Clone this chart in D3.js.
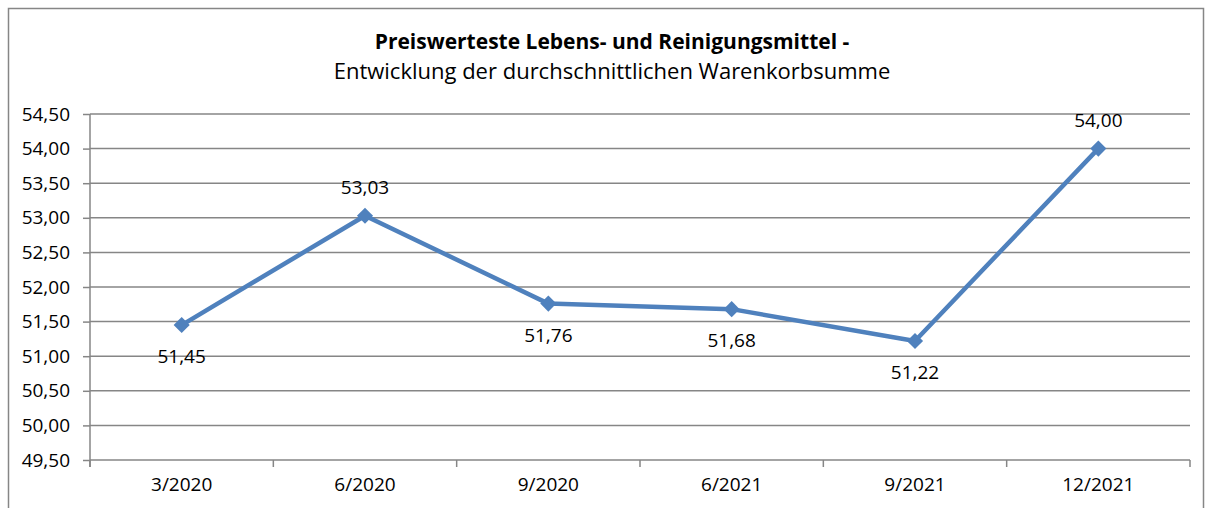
<!DOCTYPE html>
<html lang="de">
<head>
<meta charset="UTF-8">
<title>Warenkorbsumme</title>
<script src="https://d3js.org/d3.v7.min.js"></script>
<style>
    body { margin: 0; background: #fff; }
    text { font-family: "Open Sans", Lato, sans-serif; fill: #000; }
    .grid line { stroke: #868686; stroke-width: 1.5px; }
    .axis path, .axis line { stroke: #868686; stroke-width: 1.5px; }
    .axis text { font-size: 19px; }
</style>
</head>
<body>
<svg width="1209" height="508"></svg>
<script>
    var categories = ["3/2020", "6/2020", "9/2020", "6/2021", "9/2021", "12/2021"];
    var values = [51.45, 53.03, 51.76, 51.68, 51.22, 54.00];
    var labelSide = ["below", "above", "below", "below", "below", "above"];
    var yTicks = [49.5, 50, 50.5, 51, 51.5, 52, 52.5, 53, 53.5, 54, 54.5];

    var svg = d3.select("svg");
    var margin = {left: 90, right: 19, top: 114, bottom: 48};
    var width = 1209 - margin.left - margin.right,
        height = 508 - margin.top - margin.bottom;

    // chart frame
    svg.append("rect")
        .attr("x", 8.5).attr("y", 8.5)
        .attr("width", 1195).attr("height", 510)
        .attr("fill", "none").attr("stroke", "#868686").attr("stroke-width", 1.5);

    svg.append("text").attr("x", 612).attr("y", 49)
        .attr("text-anchor", "middle").style("font-size", "21px").style("font-weight", "bold")
        .text("Preiswerteste Lebens- und Reinigungsmittel -");
    svg.append("text").attr("x", 612).attr("y", 79)
        .attr("text-anchor", "middle").style("font-size", "22px")
        .text("Entwicklung der durchschnittlichen Warenkorbsumme");

    var g = svg.append("g").attr("transform", "translate(" + margin.left + "," + margin.top + ")");

    var x = d3.scaleBand().domain(categories).range([0, width]);
    var y = d3.scaleLinear().domain([49.5, 54.5]).range([height, 0]);
    var fmt = function (v) { return d3.format(".2f")(v).replace(".", ","); };

    g.append("g").attr("class", "grid")
        .selectAll("line").data(yTicks.slice(1)).enter().append("line")
        .attr("x1", 0).attr("x2", width)
        .attr("y1", function (d) { return y(d); })
        .attr("y2", function (d) { return y(d); });

    var yAxis = g.append("g").attr("class", "axis")
        .call(d3.axisLeft(y).tickValues(yTicks).tickSize(7).tickSizeOuter(0).tickPadding(13).tickFormat(fmt));
    yAxis.select(".domain").attr("d", "M0," + (height + 7) + "V0");

    var xAxis = g.append("g").attr("class", "axis")
        .attr("transform", "translate(0," + height + ")")
        .call(d3.axisBottom(x).tickSize(0).tickPadding(18));
    xAxis.select(".domain").attr("d", "M0,0H" + width);
    xAxis.selectAll(".sep")
        .data(d3.range(categories.length + 1)).enter().append("line")
        .attr("class", "sep")
        .attr("x1", function (i) { return i * x.step(); })
        .attr("x2", function (i) { return i * x.step(); })
        .attr("y1", 0).attr("y2", 7);

    var cx = function (i) { return x(categories[i]) + x.bandwidth() / 2; };

    g.append("path").datum(values)
        .attr("fill", "none").attr("stroke", "#4F81BD").attr("stroke-width", 4.5)
        .attr("stroke-linejoin", "round")
        .attr("d", d3.line().x(function (d, i) { return cx(i); }).y(function (d) { return y(d); }));

    g.selectAll(".pt").data(values).enter().append("path")
        .attr("class", "pt")
        .attr("transform", function (d, i) { return "translate(" + cx(i) + "," + y(d) + ") rotate(45)"; })
        .attr("d", d3.symbol().type(d3.symbolSquare).size(130))
        .attr("fill", "#4F81BD");

    g.selectAll(".lbl").data(values).enter().append("text")
        .attr("class", "lbl")
        .attr("x", function (d, i) { return cx(i); })
        .attr("y", function (d, i) { return y(d) + (labelSide[i] === "above" ? -22 : 38); })
        .attr("text-anchor", "middle").style("font-size", "19px")
        .text(fmt);
</script>
</body>
</html>
